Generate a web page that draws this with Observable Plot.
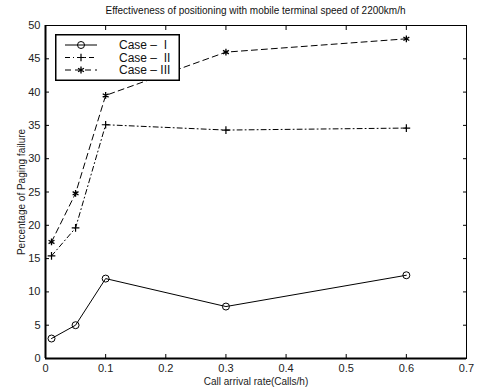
<!DOCTYPE html>
<html>
<head>
<meta charset="utf-8">
<script src="https://cdn.jsdelivr.net/npm/d3@7"></script>
<script src="https://cdn.jsdelivr.net/npm/@observablehq/plot@0.6"></script>
<style>
  html, body { margin: 0; padding: 0; background: #fff; }
  #wrap { position: relative; width: 477px; height: 387px; font-family: "Liberation Sans", Arial, Helvetica, sans-serif; }
  #title { position: absolute; left: 45px; width: 421px; top: 5px; text-align: center; font-size: 10px; color: #111; }
  #legend { position: absolute; left: 55px; top: 34px; }
</style>
</head>
<body>
<div id="wrap">
  <div id="title">Effectiveness of positioning with mobile terminal speed of 2200km/h</div>
  <div id="chart"></div>
  <div id="legend"></div>
</div>
<script>
const callRates = [0.01, 0.05, 0.1, 0.3, 0.6];
const caseI   = [3.0, 5.0, 12.0, 7.8, 12.5];
const caseII  = [15.4, 19.6, 35.1, 34.3, 34.6];
const caseIII = [17.5, 24.8, 39.5, 46.0, 48.0];
const seriesNames = ["Case –  I", "Case –  II", "Case – III"];
const xTicks = [0, 0.1, 0.2, 0.3, 0.4, 0.5, 0.6, 0.7];
const yTicks = [0, 5, 10, 15, 20, 25, 30, 35, 40, 45, 50];

const styles = [
  {dash: null, symbol: "circle", r: 3.5, sw: 1},
  {dash: "5,3,1,3", symbol: "plus", r: 2.6, sw: 1.2},
  {dash: "6,4", symbol: "asterisk", r: 3.2, sw: 1.3}
];
const seriesVals = [caseI, caseII, caseIII];
const data = seriesVals.map((vals, i) => callRates.map((x, j) => ({x, y: vals[j], s: i})));

const marks = [];
data.forEach((d, i) => {
  marks.push(Plot.line(d, {x: "x", y: "y", stroke: "#000", strokeWidth: 1, strokeDasharray: styles[i].dash}));
  marks.push(Plot.dot(d, {x: "x", y: "y", symbol: () => styles[i].symbol, stroke: "#000", fill: "none", r: styles[i].r, strokeWidth: styles[i].sw}));
});

const chart = Plot.plot({
  width: 477,
  height: 387,
  marginLeft: 45,
  marginRight: 11,
  marginTop: 25,
  marginBottom: 29,
  style: {fontFamily: '"Liberation Sans", Arial, sans-serif', fontSize: "11px", color: "#000", background: "#fff", overflow: "visible"},
  x: {domain: [0, 0.7]},
  y: {domain: [0, 50]},
  symbol: {type: "identity"},
  marks: [
    Plot.axisX(xTicks, {anchor: "bottom", tickSize: 0, tickPadding: 6, label: "Call arrival rate(Calls/h)", labelAnchor: "center", labelArrow: "none", labelOffset: 26, tickFormat: d => String(d), fill: "#222"}),
    Plot.axisX(xTicks, {anchor: "bottom", tickSize: -4, text: null, label: null}),
    Plot.axisX(xTicks, {anchor: "top", tickSize: -4, text: null, label: null}),
    Plot.axisY(yTicks, {anchor: "left", tickSize: 0, tickPadding: 5, label: "Percentage of Paging failure", labelAnchor: "center", labelArrow: "none", labelOffset: 28, fill: "#222"}),
    Plot.axisY(yTicks, {anchor: "left", tickSize: -4, text: null, label: null}),
    Plot.axisY(yTicks, {anchor: "right", tickSize: -4, text: null, label: null}),
    Plot.frame({stroke: "#000", strokeWidth: 1}),
    Plot.ruleX([0], {stroke: "#000", strokeWidth: 2}),
    Plot.ruleY([0], {stroke: "#000", strokeWidth: 2}),
    ...marks
  ]
});
chart.querySelectorAll('[aria-label="y-axis label"] text, [aria-label="x-axis label"] text').forEach(t => { t.style.fontSize = "10px"; t.setAttribute("fill", "#222"); });
document.getElementById("chart").appendChild(chart);

// Legend
const ns = "http://www.w3.org/2000/svg";
const lw = 125, lh = 47;
const leg = document.createElementNS(ns, "svg");
leg.setAttribute("width", lw);
leg.setAttribute("height", lh);
const box = document.createElementNS(ns, "rect");
box.setAttribute("x", 0.75); box.setAttribute("y", 0.75);
box.setAttribute("width", lw - 1.5); box.setAttribute("height", lh - 1.5);
box.setAttribute("fill", "#fff"); box.setAttribute("stroke", "#000"); box.setAttribute("stroke-width", 1.5);
leg.appendChild(box);
const symMap = {circle: d3.symbolCircle, plus: d3.symbolPlus, asterisk: d3.symbolAsterisk};
seriesNames.forEach((name, i) => {
  const cy = 11 + i * 12.5;
  const ln = document.createElementNS(ns, "line");
  ln.setAttribute("x1", 10); ln.setAttribute("x2", 42);
  ln.setAttribute("y1", cy); ln.setAttribute("y2", cy);
  ln.setAttribute("stroke", "#000"); ln.setAttribute("stroke-width", 1);
  if (styles[i].dash) ln.setAttribute("stroke-dasharray", styles[i].dash);
  leg.appendChild(ln);
  const p = document.createElementNS(ns, "path");
  const r = styles[i].r;
  const t = styles[i].symbol;
  p.setAttribute("d", d3.symbol(symMap[t], Math.PI * r * r)());
  p.setAttribute("transform", `translate(26,${cy})`);
  p.setAttribute("fill", "none"); p.setAttribute("stroke", "#000");
  p.setAttribute("stroke-width", styles[i].sw);
  leg.appendChild(p);
  const tx = document.createElementNS(ns, "text");
  tx.setAttribute("x", 64); tx.setAttribute("y", cy + 4);
  tx.setAttribute("font-size", "12px");
  tx.setAttribute("font-family", '"Liberation Sans", Arial, sans-serif');
  tx.setAttribute("fill", "#111");
  tx.style.whiteSpace = "pre";
  tx.textContent = name;
  leg.appendChild(tx);
});
document.getElementById("legend").appendChild(leg);
</script>
</body>
</html>
